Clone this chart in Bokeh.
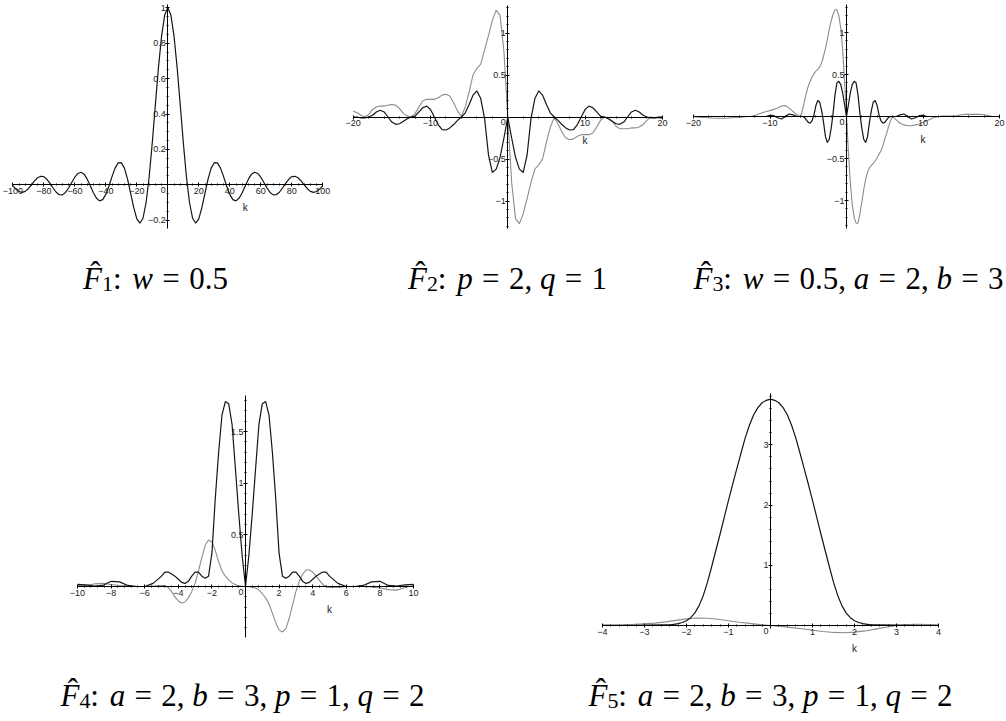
import numpy as np
from bokeh.plotting import figure
from bokeh.models import (Range1d, LinearAxis, SingleIntervalTicker, CustomJSTickFormatter, Label)
from bokeh.layouts import row, column
from bokeh.embed import file_html
from bokeh.resources import INLINE

# ---------------- data ----------------
# Panel 1 : F1, w = 0.5
k1 = list(range(-100, 101, 2))
f1 = [-0.005, -0.024, -0.038, -0.043, -0.037, -0.022, 0.000, 0.022, 0.040, 0.048,
      0.046, 0.031, 0.008, -0.018, -0.042, -0.056, -0.057, -0.043, -0.018, 0.013,
      0.043, 0.064, 0.071, 0.060, 0.032, -0.005, -0.045, -0.076, -0.091, -0.084,
      -0.054, -0.008, 0.046, 0.094, 0.124, 0.125, 0.094, 0.033, -0.047, -0.128,
      -0.192, -0.217, -0.189, -0.100, 0.047, 0.239, 0.455, 0.665, 0.841, 0.959,
      1.000,
      0.959, 0.841, 0.665, 0.455, 0.239, 0.047, -0.100, -0.189, -0.217, -0.192,
      -0.128, -0.047, 0.033, 0.094, 0.125, 0.124, 0.094, 0.046, -0.008, -0.054,
      -0.084, -0.091, -0.076, -0.045, -0.005, 0.032, 0.060, 0.071, 0.064, 0.043,
      0.013, -0.018, -0.043, -0.057, -0.056, -0.042, -0.018, 0.008, 0.031, 0.046,
      0.048, 0.040, 0.022, 0.000, -0.022, -0.037, -0.043, -0.038, -0.024, -0.005]

# Panel 2 : F2, p = 2, q = 1
k2 = [i * 0.5 for i in range(-40, 41)]
f2_black = [0.0, 0.0, -0.01, -0.01, 0.0, 0.02, 0.06, 0.08, 0.06, 0.0,
            -0.06, -0.087, -0.08, -0.05, -0.02, 0.0, 0.01, 0.06, 0.11, 0.13,
            0.09, 0.0, -0.09, -0.15, -0.155, -0.13, -0.09, -0.04, 0.0, 0.05,
            0.15, 0.26, 0.31, 0.22, -0.02, -0.45, -0.66, -0.62, -0.48, -0.25,
            0.0,
            -0.25, -0.48, -0.62, -0.66, -0.45, -0.02, 0.22, 0.31, 0.26, 0.15,
            0.05, 0.0, -0.04, -0.09, -0.13, -0.155, -0.15, -0.09, 0.0, 0.09,
            0.13, 0.11, 0.06, 0.01, 0.0, -0.02, -0.05, -0.08, -0.087, -0.06,
            0.0, 0.06, 0.08, 0.06, 0.02, 0.0, -0.01, -0.01, 0.0, 0.0]
f2_gray = [0.07, 0.05, 0.02, 0.0, 0.03, 0.09, 0.12, 0.13, 0.13, 0.14,
           0.15, 0.14, 0.1, 0.04, 0.01, 0.0, 0.04, 0.12, 0.19, 0.21,
           0.21, 0.21, 0.23, 0.26, 0.27, 0.25, 0.17, 0.07, 0.01, 0.12,
           0.3, 0.5, 0.58, 0.63, 0.8, 0.97, 1.15, 1.27, 1.21, 0.78,
           0.0,
           -0.78, -1.21, -1.27, -1.15, -0.97, -0.78, -0.62, -0.57, -0.5, -0.3,
           -0.12, -0.01, -0.08, -0.18, -0.25, -0.27, -0.26, -0.23, -0.21, -0.21,
           -0.21, -0.19, -0.12, -0.04, 0.0, -0.01, -0.05, -0.11, -0.14, -0.14,
           -0.14, -0.13, -0.13, -0.12, -0.09, -0.04, 0.0, -0.01, -0.01, -0.02]

# Panel 3 : F3, w = 0.5, a = 2, b = 3
k3 = ([-20 + 0.5 * i for i in range(28)] + [-6 + 0.25 * i for i in range(49)]
      + [6.5 + 0.5 * i for i in range(28)])
f3_black = ([0.0] * 19 + [0.0, 0.015, 0.01, -0.015, -0.03, 0.0, 0.03, 0.02, 0.0]
            + [0.0, 0.0, -0.01, -0.04, -0.07, -0.08, -0.05, 0.02, 0.13, 0.19,
               0.17, 0.07, -0.07, -0.24, -0.31, -0.27, -0.14, 0.04, 0.26, 0.40,
               0.42, 0.38, 0.28, 0.14,
               0.0,
               0.14, 0.28, 0.38, 0.42, 0.40, 0.26, 0.04, -0.14, -0.27, -0.31,
               -0.24, -0.07, 0.07, 0.17, 0.19, 0.13, 0.02, -0.05, -0.08, -0.07,
               -0.04, -0.01, 0.0, 0.0]
            + [0.0, 0.02, 0.03, 0.0, -0.03, -0.015, 0.01, 0.015, 0.0] + [0.0] * 19)
f3_gray = ([0.0, -0.005, -0.01, -0.012, -0.015, -0.018, -0.02, -0.02, -0.02, -0.018,
            -0.015, -0.012, -0.01, -0.005, 0.0, 0.0, 0.01, 0.03, 0.045, 0.06,
            0.07, 0.085, 0.1, 0.125, 0.13, 0.1, 0.06, 0.02]
           + [0.0, 0.08, 0.18, 0.28, 0.36, 0.42, 0.47, 0.51, 0.54, 0.56,
              0.59, 0.64, 0.72, 0.81, 0.92, 1.04, 1.14, 1.22, 1.27, 1.27,
              1.2, 1.05, 0.79, 0.42,
              0.0,
              -0.42, -0.79, -1.05, -1.2, -1.27, -1.27, -1.16, -1.02, -0.87, -0.75,
              -0.66, -0.61, -0.58, -0.56, -0.53, -0.49, -0.45, -0.41, -0.35, -0.27,
              -0.2, -0.12, -0.05, 0.0]
           + [-0.04, -0.08, -0.1, -0.11, -0.11, -0.1, -0.09, -0.07, -0.05, -0.03,
              -0.01, 0.0, 0.005, 0.005, 0.005, 0.005, 0.01, 0.02, 0.025, 0.025,
              0.025, 0.025, 0.025, 0.02, 0.01, 0.0, 0.0, 0.0])

# Panel 4 : F4, a = 2, b = 3, p = 1, q = 2
k4 = ([-10 + 0.5 * i for i in range(10)] + [round(-5 + 0.2 * i, 2) for i in range(51)]
      + [5.5 + 0.5 * i for i in range(10)])
f4_black = ([0.02, 0.015, 0.005, 0.01, 0.05, 0.045, 0.01, 0.0, 0.0, 0.03]
            + [0.1, 0.14, 0.14, 0.12, 0.1, 0.07, 0.04, 0.03, 0.05, 0.1,
               0.14, 0.14, 0.1, 0.08, 0.1, 0.32, 0.85, 1.3, 1.66, 1.79,
               1.77, 1.57, 1.14, 0.7, 0.3,
               0.0,
               0.3, 0.7, 1.14, 1.57, 1.77, 1.79, 1.66, 1.3, 0.85, 0.32,
               0.1, 0.08, 0.1, 0.14, 0.14, 0.1, 0.05, 0.03, 0.04, 0.07,
               0.1, 0.12, 0.14, 0.14, 0.1]
            + [0.03, 0.0, 0.0, 0.01, 0.045, 0.05, 0.01, 0.005, 0.015, 0.02])
f4_gray = ([0.01, 0.01, 0.025, 0.03, 0.02, 0.01, 0.005, 0.0, 0.0, 0.005]
           + [0.01, 0.01, -0.01, -0.05, -0.1, -0.14, -0.16, -0.15, -0.11, -0.05,
              0.03, 0.15, 0.28, 0.4, 0.45, 0.43, 0.35, 0.24, 0.15, 0.1,
              0.064, 0.035, 0.016, 0.008, 0.002,
              0.0,
              -0.002, -0.008, -0.015, -0.035, -0.07, -0.11, -0.17, -0.26, -0.35, -0.42,
              -0.44, -0.41, -0.31, -0.18, -0.05, 0.05, 0.12, 0.16, 0.16, 0.14,
              0.1, 0.06, 0.02, 0.0, -0.01]
           + [-0.01, 0.0, 0.0, 0.0, -0.005, -0.015, -0.03, -0.035, -0.01, 0.01])

# Panel 5 : F5, a = 2, b = 3, p = 1, q = 2
k5 = [-4, -3.5, -3] + [round(-2.5 + 0.1 * i, 2) for i in range(51)] + [3, 3.5, 4]
f5_black = ([0.0, 0.0, 0.005]
            + [0.01, 0.01, 0.02, 0.03, 0.05, 0.08, 0.13, 0.21, 0.33, 0.5,
               0.72, 0.98, 1.25, 1.52, 1.8, 2.08, 2.35, 2.61, 2.87, 3.12,
               3.33, 3.50, 3.62, 3.70, 3.74,
               3.76,
               3.74, 3.70, 3.62, 3.50, 3.33, 3.12, 2.87, 2.61, 2.35, 2.08,
               1.8, 1.52, 1.25, 0.98, 0.72, 0.5, 0.33, 0.21, 0.13, 0.08,
               0.05, 0.03, 0.02, 0.01, 0.01]
            + [0.005, 0.0, 0.0])
k5g = [-4 + 0.25 * i for i in range(33)]
f5_gray = [0.01, 0.012, 0.015, 0.02, 0.03, 0.04, 0.06, 0.085, 0.11, 0.125,
           0.12, 0.105, 0.08, 0.055, 0.035, 0.015, 0.0, -0.015, -0.035, -0.055,
           -0.08, -0.1, -0.115, -0.12, -0.11, -0.09, -0.06, -0.03, 0.0, 0.015,
           0.02, 0.015, 0.01]

# captions: (subscript, [(variable, value), ...])
captions = [
    ("1", [("w", "0.5")]),
    ("2", [("p", "2"), ("q", "1")]),
    ("3", [("w", "0.5"), ("a", "2"), ("b", "3")]),
    ("4", [("a", "2"), ("b", "3"), ("p", "1"), ("q", "2")]),
    ("5", [("a", "2"), ("b", "3"), ("p", "1"), ("q", "2")]),
]

# ---------------- styling helpers ----------------
BLACK = "#151515"
GRAY = "#8c8c8c"
TICK_FONT = "Liberation Sans"
MATH_FONT = "Liberation Serif"

RM_W = {' ': 0.25, ',': 0.25, '.': 0.25, ':': 0.278, '=': 0.564}
for _d in "0123456789":
    RM_W[_d] = 0.5
IT_W = {'F': 0.611, 'w': 0.667, 'p': 0.5, 'q': 0.5, 'a': 0.5, 'b': 0.5}

fmt = CustomJSTickFormatter(code="""
if (Math.abs(tick) < 1e-9) { return ''; }
var s = String(Math.round(tick * 1000) / 1000);
return s.replace('-', '\u2212');
""")


def make_panel(w, h, ox, oy, sx, sy, xb, yb, xint, xminor, yint, yminor):
    p = figure(width=w, height=h,
               x_range=Range1d(-ox / sx, (w - ox) / sx),
               y_range=Range1d(-(h - oy) / sy, oy / sy),
               toolbar_location=None, output_backend="svg",
               x_axis_type=None, y_axis_type=None, min_border=0,
               outline_line_color=None, background_fill_color="white",
               border_fill_color="white")
    xa = LinearAxis(fixed_location=0, bounds=xb,
                    ticker=SingleIntervalTicker(interval=xint, num_minor_ticks=xminor),
                    formatter=fmt)
    ya = LinearAxis(fixed_location=0, bounds=yb,
                    ticker=SingleIntervalTicker(interval=yint, num_minor_ticks=yminor),
                    formatter=fmt)
    for ax in (xa, ya):
        ax.axis_line_color = "black"
        ax.axis_line_width = 1
        ax.major_tick_line_color = "black"
        ax.major_tick_in = 2
        ax.major_tick_out = 2
        ax.minor_tick_line_color = "black"
        ax.minor_tick_in = 1
        ax.minor_tick_out = 1
        ax.major_label_text_font = TICK_FONT
        ax.major_label_text_font_size = "9px"
        ax.major_label_text_color = "#222222"
    xa.major_label_standoff = 1
    ya.major_label_standoff = 0
    p.add_layout(xa, "below")
    p.add_layout(ya, "left")
    # origin "0" and the variable name "k"
    p.add_layout(Label(x=0, y=0, text="0", x_offset=-2, y_offset=-5,
                       text_align="right", text_baseline="middle",
                       text_font=TICK_FONT, text_font_size="9px", text_color="#222222"))
    p.add_layout(Label(x=xb[1] / 2, y=0, text="k", y_offset=-23,
                       text_align="center", text_baseline="middle",
                       text_font=TICK_FONT, text_font_size="10px", text_color="#222222"))
    return p


def add_caption(p, sub, assigns, cx, base_top, fs=31):
    parts = [("it", "F"), ("sub", sub), ("rm", ":"), ("sp", 0.35)]
    for i, (var, val) in enumerate(assigns):
        if i > 0:
            parts += [("rm", ","), ("sp", 0.25)]
        parts += [("it", var), ("sp", 0.3), ("rm", "="), ("sp", 0.3), ("rm", val)]
    widths = []
    for kind, t in parts:
        if kind == "it":
            widths.append(sum(IT_W[c] for c in t) * fs)
        elif kind == "rm":
            widths.append(sum(RM_W[c] for c in t) * fs)
        elif kind == "sub":
            widths.append(0.5 * len(t) * 0.7 * fs)
        else:
            widths.append(t * fs)
    x = cx - sum(widths) / 2
    y = p.height - base_top
    for (kind, t), wd in zip(parts, widths):
        if kind == "it":
            p.add_layout(Label(x=x, y=y, x_units="screen", y_units="screen", text=t,
                               text_font=MATH_FONT, text_font_style="italic",
                               text_font_size=f"{fs}px", text_baseline="alphabetic",
                               text_color="black"))
            if t == "F":
                p.add_layout(Label(x=x + 0.40 * fs, y=y + 0.20 * fs, x_units="screen",
                                   y_units="screen", text="\u02c6", text_align="center",
                                   text_font=MATH_FONT, text_font_size=f"{fs}px",
                                   text_baseline="alphabetic", text_color="black"))
        elif kind == "rm":
            p.add_layout(Label(x=x, y=y, x_units="screen", y_units="screen", text=t,
                               text_font=MATH_FONT, text_font_size=f"{fs}px",
                               text_baseline="alphabetic", text_color="black"))
        elif kind == "sub":
            p.add_layout(Label(x=x, y=y - 0.17 * fs, x_units="screen", y_units="screen",
                               text=t, text_font=MATH_FONT,
                               text_font_size=f"{round(0.7 * fs)}px",
                               text_baseline="alphabetic", text_color="black"))
        x += wd


# ---------------- panels ----------------
TOP_H = 300
BOT_H = 420
TOP_BASE = 278
BOT_BASE = 395

p1 = make_panel(340, TOP_H, 167.3, 184.3, 1.55, 177.0, (-100, 100), (-0.247, 1.02),
                20, 5, 0.2, 4)
p1.line(k1, f1, line_color=BLACK, line_width=1.2)
add_caption(p1, *captions[0], cx=155, base_top=TOP_BASE)

p2 = make_panel(332, TOP_H, 167.3, 116.5, 7.73, 84.0, (-20, 20), (-1.33, 1.33),
                10, 5, 0.5, 5)
p2.line(k2, f2_gray, line_color=GRAY, line_width=1.1)
p2.line(k2, f2_black, line_color=BLACK, line_width=1.2)
add_caption(p2, *captions[1], cx=167, base_top=TOP_BASE)

p3 = make_panel(334, TOP_H, 174.0, 116.0, 7.65, 84.0, (-20, 20), (-1.33, 1.33),
                10, 5, 0.5, 5)
p3.line(k3, f3_gray, line_color=GRAY, line_width=1.1)
p3.line(k3, f3_black, line_color=BLACK, line_width=1.2)
add_caption(p3, *captions[2], cx=176, base_top=TOP_BASE)

p4 = make_panel(505, BOT_H, 245.0, 286.0, 16.8, 103.3, (-10, 10), (-0.494, 1.85),
                2, 5, 0.5, 5)
p4.line(k4, f4_gray, line_color=GRAY, line_width=1.1)
p4.line(k4, f4_black, line_color=BLACK, line_width=1.2)
add_caption(p4, *captions[3], cx=242, base_top=BOT_BASE)

p5 = make_panel(501, BOT_H, 265.0, 325.0, 42.0, 60.2, (-4, 4), (-0.05, 3.85),
                1, 5, 1, 5)
p5.line(k5g, f5_gray, line_color=GRAY, line_width=1.1)
p5.line(k5, f5_black, line_color=BLACK, line_width=1.2)
add_caption(p5, *captions[4], cx=265, base_top=BOT_BASE)

layout = column(row(p1, p2, p3), row(p4, p5))

open("out.html", "w").write(file_html(layout, INLINE))
